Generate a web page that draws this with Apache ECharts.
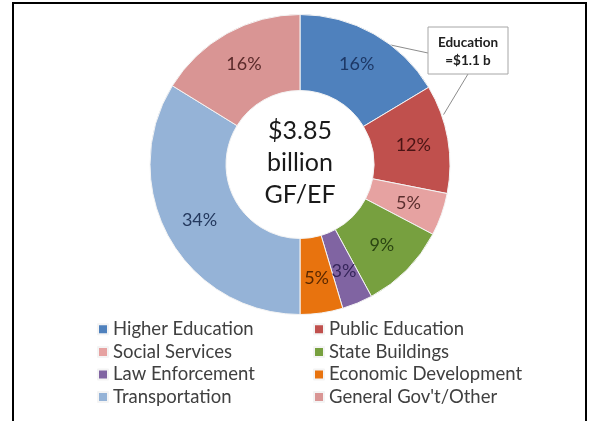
<!DOCTYPE html>
<html>
<head>
<meta charset="utf-8">
<script src="https://cdn.jsdelivr.net/npm/echarts@6/dist/echarts.min.js"></script>
<style>
html,body{margin:0;padding:0;background:#fff;}
#chart{width:589px;height:421px;}
</style>
</head>
<body>
<div id="chart"></div>
<script>
// ---- data ----
const categories = ["Higher Education","Public Education","Social Services","State Buildings","Law Enforcement","Economic Development","Transportation","General Gov't/Other"];
const shares = [16.4, 11.7, 4.6, 9.4, 3.3, 4.6, 33.8, 16.2];
const centerText = ["$3.85", "billion", "GF/EF"];
const calloutText = ["Education", "=$1.1 b"];
const legendCol1 = ["Higher Education","Social Services","Law Enforcement","Transportation"];
const legendCol2 = ["Public Education","State Buildings","Economic Development","General Gov't/Other"];

// ---- styles ----
const colors = ['#4f81bd','#c0504d','#e6a2a1','#77a03f','#8064a2','#e8730e','#95b3d7','#d99594'];
const labelColors = ['#1d3866','#4a1414','#5a2e2e','#2b4512','#35255a','#5a2800','#24395e','#5a2a2a'];

const chart = echarts.init(document.getElementById('chart'));
const cx = 300, cy = 164.5, rIn = 74, rOut = 150;

const total = shares.reduce((a,b)=>a+b,0);
function edgePoint(idx, frac, r) {
  let cum = 0;
  for (let i = 0; i < idx; i++) cum += shares[i];
  const ang = (cum + shares[idx]*frac) / total * 2 * Math.PI;
  return [cx + r*Math.sin(ang), cy - r*Math.cos(ang)];
}
const p1 = edgePoint(0, 0.63, rOut);
const p2 = edgePoint(1, 0.28, rOut + 2);

const font = 'Lato, "Open Sans", sans-serif';

chart.setOption({
  animation: false,
  backgroundColor: '#fff',
  legend: [
    {
      data: legendCol1, orient: 'vertical', left: 97, top: 318, padding: 0,
      itemWidth: 10, itemHeight: 10, itemGap: 0, icon: 'rect',
      textStyle: {fontFamily: font, fontSize: 18.5, color: '#404040', lineHeight: 22.6}
    },
    {
      data: legendCol2, orient: 'vertical', left: 313, top: 318, padding: 0,
      itemWidth: 10, itemHeight: 10, itemGap: 0, icon: 'rect',
      textStyle: {fontFamily: font, fontSize: 18.5, color: '#404040', lineHeight: 22.6}
    }
  ],
  series: [{
    type: 'pie',
    center: [cx, cy],
    radius: [rIn, rOut],
    startAngle: 90,
    clockwise: true,
    avoidLabelOverlap: false,
    itemStyle: {borderColor: '#f4f4f4', borderWidth: 1},
    label: {
      show: true, position: 'inside',
      fontFamily: font, fontSize: 18,
      formatter: p => Math.round(p.value) + '%'
    },
    labelLine: {show: false},
    emphasis: {disabled: true},
    data: categories.map((c,i) => ({
      name: c, value: shares[i],
      itemStyle: {color: colors[i]},
      label: {color: labelColors[i]}
    }))
  }],
  graphic: [
    {type: 'rect', shape: {x: 13, y: 3, width: 573, height: 440}, style: {fill: 'none', stroke: '#000', lineWidth: 2}, silent: true},
    {type: 'text', x: cx, y: cy - 2, style: {text: centerText.join('\n'), fontFamily: font, fontSize: 25, lineHeight: 32, fill: '#1a1a1a', align: 'center', verticalAlign: 'middle'}, silent: true},
    {type: 'line', shape: {x1: p1[0], y1: p1[1], x2: 428, y2: 53}, style: {stroke: '#8c8c8c', lineWidth: 1}, silent: true},
    {type: 'line', shape: {x1: 468, y1: 74, x2: p2[0], y2: p2[1]}, style: {stroke: '#8c8c8c', lineWidth: 1}, silent: true},
    {type: 'rect', shape: {x: 428, y: 27, width: 80, height: 47}, style: {fill: '#fff', stroke: '#a6a6a6', lineWidth: 1}, silent: true},
    {type: 'text', x: 468, y: 52, style: {text: calloutText.join('\n'), fontFamily: font, fontWeight: 'bold', fontSize: 13.5, lineHeight: 18, fill: '#202020', align: 'center', verticalAlign: 'middle'}, silent: true}
  ]
});
</script>
</body>
</html>
